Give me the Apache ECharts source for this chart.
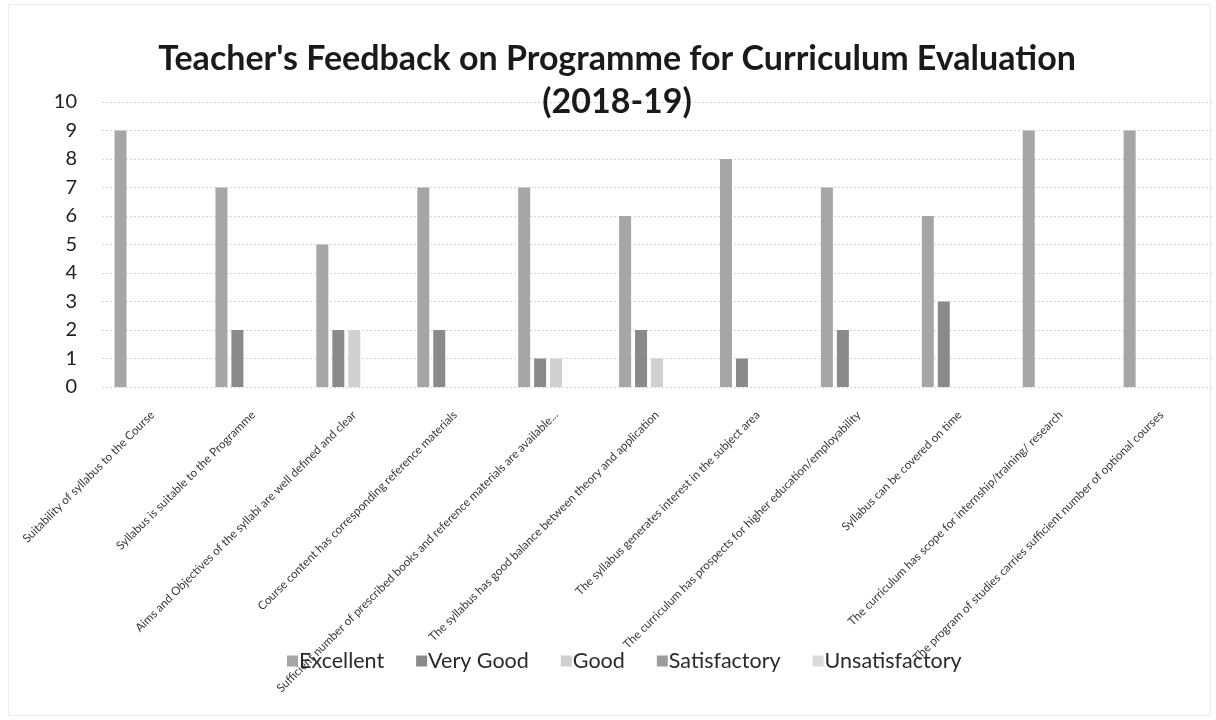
<!DOCTYPE html>
<html>
<head>
<meta charset="utf-8">
<title>Teacher's Feedback on Programme for Curriculum Evaluation</title>
<script src="https://cdn.jsdelivr.net/npm/echarts@6/dist/echarts.min.js"></script>
<style>
  html, body { margin: 0; padding: 0; background: #fff; }
  #chart { width: 1216px; height: 720px; }
</style>
</head>
<body>
<div id="chart"></div>
<script>
// categories (x axis)
var questions = [
  'Suitability of syllabus to the Course',
  'Syllabus is suitable to the Programme',
  'Aims and Objectives of the syllabi are well defined and clear',
  'Course content has corresponding reference materials',
  'Sufficient number of prescribed books and reference materials are available...',
  'The syllabus has good balance between theory and application',
  'The syllabus generates interest in the subject area',
  'The curriculum has prospects for higher education/employability',
  'Syllabus can be covered on time',
  'The curriculum has scope for internship/training/ research',
  'The program of studies carries sufficient number of optional courses'
];

// series values
var excellent      = [9, 7, 5, 7, 7, 6, 8, 7, 6, 9, 9];
var veryGood       = [0, 2, 2, 2, 1, 2, 1, 2, 3, 0, 0];
var good           = [0, 0, 2, 0, 1, 1, 0, 0, 0, 0, 0];
var satisfactory   = [0, 0, 0, 0, 0, 0, 0, 0, 0, 0, 0];
var unsatisfactory = [0, 0, 0, 0, 0, 0, 0, 0, 0, 0, 0];

var seriesNames = ['Excellent', 'Very Good', 'Good', 'Satisfactory', 'Unsatisfactory'];
var seriesData = [excellent, veryGood, good, satisfactory, unsatisfactory];
var colors = ['#a6a6a6', '#8a8a8a', '#d0d0d0', '#9c9c9c', '#dadada'];

var chartView = echarts.init(document.getElementById('chart'));

chartView.setOption({
    backgroundColor: '#fff',
    animation: false,
    color: colors,
    textStyle: { fontFamily: 'Lato' },
    title: {
        text: "Teacher's Feedback on Programme for Curriculum Evaluation\n(2018-19)",
        left: 617,
        top: 38,
        textAlign: 'center',
        padding: 0,
        textStyle: {
            fontFamily: 'Lato',
            fontSize: 34,
            fontWeight: 'bold',
            color: '#1a1a1a',
            lineHeight: 43
        }
    },
    legend: {
        data: seriesNames,
        left: 282,
        top: 645,
        itemWidth: 11,
        itemHeight: 11,
        itemGap: 32,
        icon: 'rect',
        textStyle: {
            fontFamily: 'Lato',
            fontSize: 21.5,
            color: '#2a2a2a',
            padding: [0, 0, 0, -4]
        }
    },
    grid: {
        left: 102,
        right: 4,
        top: 102,
        bottom: 333,
        containLabel: false
    },
    xAxis: {
        type: 'category',
        data: questions,
        axisLine: { show: false },
        axisTick: { show: false },
        axisLabel: {
            rotate: 45,
            interval: 0,
            margin: 26,
            fontSize: 11.7,
            color: '#3a3a3a',
            fontFamily: 'Lato'
        }
    },
    yAxis: {
        type: 'value',
        min: 0,
        max: 10,
        interval: 1,
        axisLine: { show: false },
        axisTick: { show: false },
        axisLabel: {
            margin: 25,
            fontSize: 20,
            color: '#222',
            fontFamily: 'Lato'
        },
        splitLine: {
            lineStyle: { color: '#d6d6d6', width: 1, type: [2, 2] }
        }
    },
    graphic: [{
        type: 'rect',
        shape: { x: 8.5, y: 4.5, width: 1202, height: 711 },
        style: { fill: 'none', stroke: '#ececec', lineWidth: 1 },
        silent: true
    }],
    series: seriesNames.map(function (name, i) {
        return {
            name: name,
            type: 'bar',
            data: seriesData[i],
            barWidth: 12,
            barGap: '33%'
        };
    })
});

window.addEventListener('resize', function () {
    chartView.resize();
});
</script>
</body>
</html>
